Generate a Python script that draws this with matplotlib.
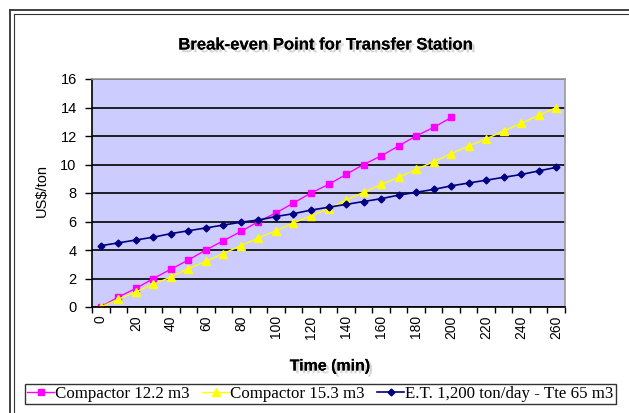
import matplotlib
matplotlib.use("Agg")
import matplotlib.pyplot as plt
import matplotlib.patheffects as pe
from matplotlib.lines import Line2D

# time categories (min)
times = list(range(0, 270, 10))

# US$/ton
compactor_122 = [0.0, 0.7, 1.3, 2.0, 2.65, 3.3, 4.0, 4.65, 5.3, 6.0, 6.6,
                 7.3, 8.0, 8.6, 9.3, 10.0, 10.6, 11.3, 12.0, 12.6, 13.3]
compactor_153 = [0.0, 0.55, 1.05, 1.6, 2.1, 2.7, 3.2, 3.75, 4.3, 4.85, 5.35,
                 5.9, 6.4, 6.9, 7.5, 8.05, 8.6, 9.1, 9.65, 10.2, 10.75,
                 11.3, 11.8, 12.35, 12.9, 13.45, 14.0]
et_1200 = [4.3, 4.5, 4.7, 4.9, 5.15, 5.35, 5.55, 5.75, 5.95, 6.1, 6.35,
           6.55, 6.8, 7.0, 7.2, 7.4, 7.6, 7.85, 8.05, 8.25, 8.5, 8.7,
           8.9, 9.1, 9.3, 9.55, 9.8]

labels = ["Compactor 12.2 m3", "Compactor 15.3 m3",
          "E.T. 1,200 ton/day - Tte 65 m3"]

plt.rcParams['font.family'] = ['Liberation Sans', 'DejaVu Sans']

W, H = 629, 413
fig = plt.figure(figsize=(W / 100, H / 100), dpi=100)
fig.patch.set_facecolor('white')

# outer double frame (Excel chart area border)
for off, lw in [(10, 1.3), (14, 0.8)]:
    fig.add_artist(Line2D([off / W, off / W], [0, 1 - off / H],
                          transform=fig.transFigure, color='#333333', lw=lw))
    fig.add_artist(Line2D([off / W, 1], [1 - off / H, 1 - off / H],
                          transform=fig.transFigure, color='#333333', lw=lw))

ax = fig.add_axes([92 / W, 1 - 307 / H, 473 / W, 228 / H])
ax.set_facecolor('#CCCCFF')

idx = list(range(len(times)))
ax.plot(idx[:len(compactor_122)], compactor_122, color='#FF00FF', lw=1,
        marker='s', ms=5, label=labels[0])
ax.plot(idx, compactor_153, color='#FFFF00', lw=1,
        marker='^', ms=5.5, label=labels[1])
ax.plot(idx, et_1200, color='#000080', lw=1.2,
        marker='D', ms=3.5, label=labels[2])

ax.set_xlim(-0.5, len(times) - 0.5)
ax.set_ylim(0, 16)
ax.set_yticks(range(0, 17, 2))
ax.yaxis.grid(True, color='black', lw=1.2)
ax.set_axisbelow(True)

ax.set_xticks(idx[::2])
ax.set_xticklabels([str(t) for t in times[::2]], rotation=90, fontsize=10)
ax.set_xticks([i - 0.5 for i in range(len(times) + 1)], minor=True)
ax.tick_params(axis='x', which='major', length=0, pad=6)
ax.tick_params(axis='x', which='minor', length=4, width=1)
ax.tick_params(axis='y', length=5, width=1, labelsize=10.5, pad=6)

for s in ['top', 'right']:
    ax.spines[s].set_color('#999999')
    ax.spines[s].set_linewidth(1.2)
ax.spines['left'].set_linewidth(1.2)
ax.spines['bottom'].set_linewidth(1.2)

shadow = [pe.withSimplePatchShadow(offset=(2, -2), shadow_rgbFace='#888888', alpha=0.35),
          pe.Normal()]
fig.text(325 / W, 1 - 45 / H, "Break-even Point for Transfer Station",
         ha='center', va='center', fontsize=12, fontweight='bold',
         path_effects=shadow)
fig.text(330 / W, 1 - 366 / H, "Time (min)", ha='center', va='center',
         fontsize=11.5, fontweight='bold', path_effects=shadow)
fig.text(42 / W, 1 - 191 / H, "US$/ton", ha='center', va='center',
         rotation=90, fontsize=10.5)

leg = fig.legend(loc='upper left', bbox_to_anchor=(25 / W, 1 - 384 / H),
                 ncol=3, frameon=True, fancybox=False, edgecolor='black',
                 prop={'family': 'Liberation Serif', 'size': 12.2},
                 handlelength=1.6, handletextpad=0.05, columnspacing=0.75,
                 borderpad=0.12, borderaxespad=0)
leg.get_frame().set_linewidth(1)

fig.savefig("out.png", dpi=100)
